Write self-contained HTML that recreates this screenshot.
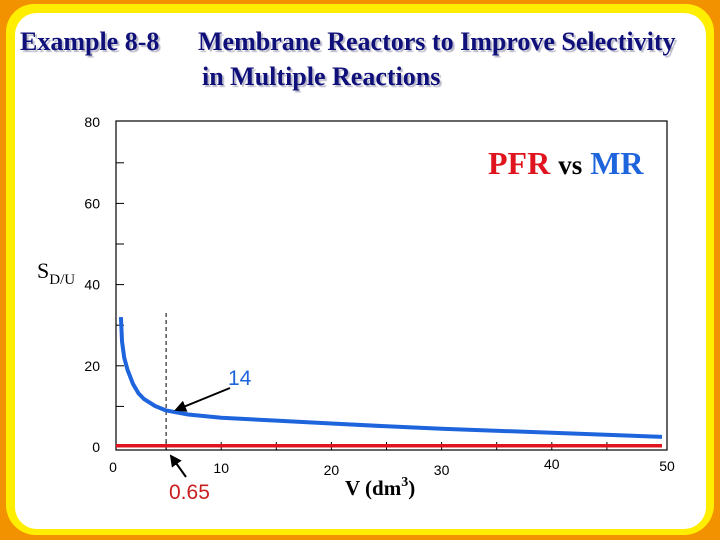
<!DOCTYPE html>
<html><head><meta charset="utf-8"><style>
body{margin:0;width:720px;height:540px;overflow:hidden;background:#f39200;font-family:"Liberation Sans",sans-serif}
#frame{position:absolute;left:6px;top:4px;width:708px;height:531px;background:#ffee00;border-radius:28px 28px 30px 30px}
#inner{position:absolute;left:15px;top:13px;width:691px;height:516px;background:#fff;border-radius:22px}
.t{position:absolute;font-family:"Liberation Serif",serif;font-weight:bold;font-size:26px;color:#10107a;text-shadow:2px 2px 1px #b8b8c8;white-space:nowrap}
svg{position:absolute;left:0;top:0}
</style></head><body>
<div id="frame"></div>
<div id="inner"></div>
<div class="t" style="left:20px;top:27px">Example 8-8</div>
<div class="t" style="left:198px;top:27px">Membrane Reactors to Improve Selectivity</div>
<div class="t" style="left:202px;top:62px">in Multiple Reactions</div>
<svg width="720" height="540" id="chart"></svg>
<script>
const xTicks=[0,10,20,30,40,50];
const yTicks=[0,20,40,60,80];
const mrV=[0.9,1,1.2,1.5,2,2.5,3,4,5,7,10,15,20,25,30,40,50];
const mrS=[32,26,22,19,15.5,13.2,11.8,10.1,9,8,7.2,6.5,5.8,5.1,4.5,3.5,2.5];
const pfrV=[0,50];
const pfrS=[0.3,0.3];
const NS='http://www.w3.org/2000/svg';
const svg=document.getElementById('chart');
const X=v=>111+v*11.02;
const Y=s=>447-s*4.06;
function mk(tag,attrs,parent){const e=document.createElementNS(NS,tag);for(const k in attrs)e.setAttribute(k,attrs[k]);(parent||svg).appendChild(e);return e;}
const box=mk('rect',{x:116,y:121,width:551,height:329,fill:'none',stroke:'#000','stroke-width':1.2});


for(let s=10;s<80;s+=10){const t=mk('line',{x1:116,x2:124,y1:Y(s),y2:Y(s),stroke:'#000'});

}
yTicks.forEach(s=>{const t=mk('text',{x:100,y:Y(s)+5,'text-anchor':'end','font-size':14,'font-family':'Liberation Sans, sans-serif'});t.textContent=s;

});
for(let v=5;v<50;v+=5){const t=mk('line',{x1:X(v),x2:X(v),y1:442,y2:450,stroke:'#000'});

}
const xLabY=[467,468,470,470,464,466];
xTicks.forEach((v,i)=>{const t=mk('text',{x:i==0?113:(i==5?667:X(v)),y:xLabY[i]+5,'text-anchor':'middle','font-size':14,'font-family':'Liberation Sans, sans-serif'});t.textContent=v;

});
const d=mk('line',{x1:X(5),x2:X(5),y1:313,y2:450,stroke:'#000','stroke-dasharray':'4,3'});


const pf=mk('polyline',{points:pfrV.map((v,i)=>X(v<1?0.45:v)+','+Y(pfrS[i])).join(' '),fill:'none',stroke:'#e0141e','stroke-width':3.5});


const mr=mk('polyline',{points:mrV.map((v,i)=>X(v)+','+Y(mrS[i])).join(' '),fill:'none',stroke:'#1e64dc','stroke-width':4,'stroke-linejoin':'round'});


mk('defs',{}).innerHTML='<marker id="ah" markerWidth="6" markerHeight="6" refX="5" refY="3" orient="auto"><path d="M0,0 L6,3 L0,6 z" fill="#000"/></marker>';
const a1=mk('line',{x1:230,x2:176,y1:388,y2:410,stroke:'#000','stroke-width':2,'marker-end':'url(#ah)'});


const a2=mk('line',{x1:186,x2:171,y1:477,y2:456,stroke:'#000','stroke-width':2,'marker-end':'url(#ah)'});


function txt(s,attrs,name){const t=mk('text',attrs);t.innerHTML=s;return t;}
txt('14',{x:228,y:385,'font-size':21,fill:'#1e64dc','font-family':'Liberation Sans, sans-serif'},'annotation-14');
txt('0.65',{x:169,y:499,'font-size':21,fill:'#c81e1e','font-family':'Liberation Sans, sans-serif'},'annotation-065');
txt('<tspan fill="#e0141e">PFR</tspan> <tspan fill="#000" font-size="27">vs</tspan> <tspan fill="#1e64dc">MR</tspan>',{x:488,y:174,'font-size':32,'font-weight':'bold','font-family':'Liberation Serif, serif'},'legend-pfr-vs-mr');
txt('S<tspan font-size="15" dy="6">D/U</tspan>',{x:37,y:278,'font-size':22,'font-family':'Liberation Serif, serif'},'y-axis-title');
txt('V (dm<tspan font-size="14" dy="-9">3</tspan><tspan dy="9">)</tspan>',{x:345,y:495,'font-size':21,'font-weight':'bold','font-family':'Liberation Serif, serif'},'x-axis-title');
</script>
</body></html>
